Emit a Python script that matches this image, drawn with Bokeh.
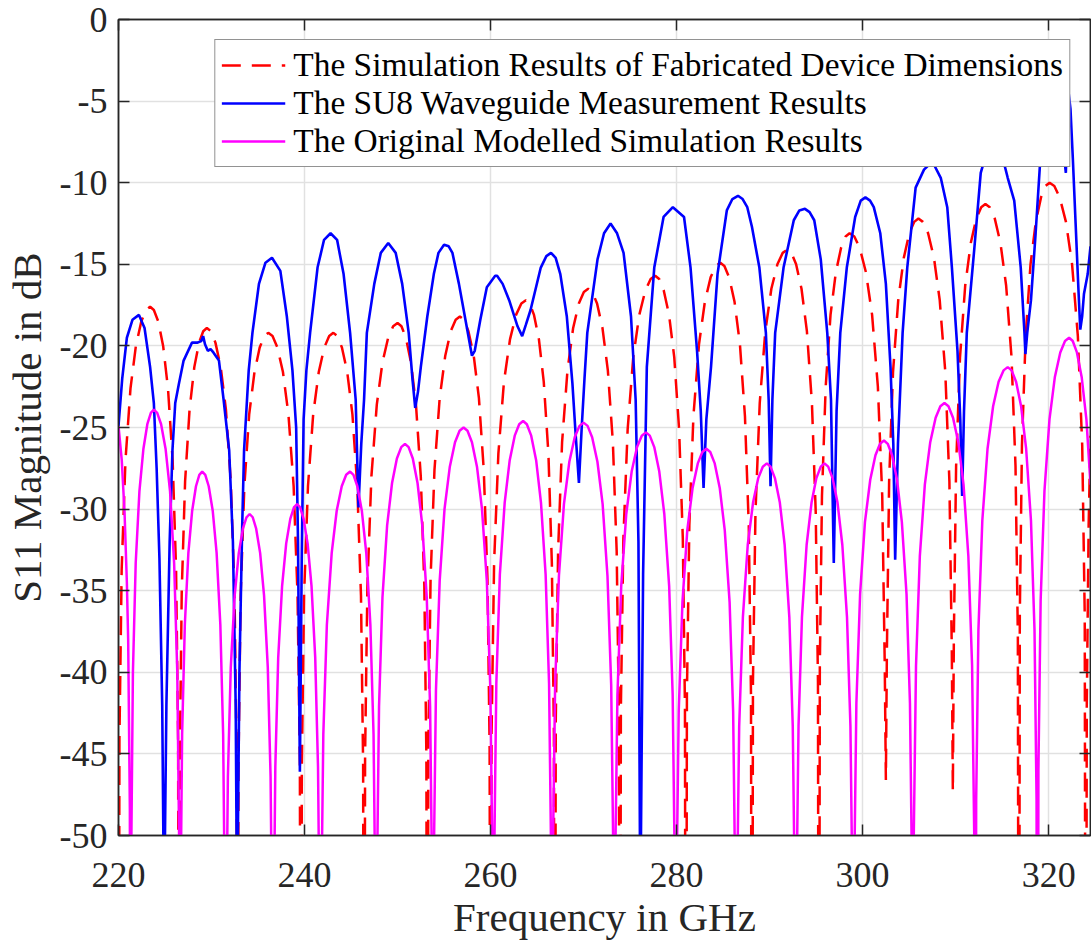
from bokeh.plotting import figure
from bokeh.models import Range1d, LinearAxis, FixedTicker, Legend, LegendItem, PrintfTickFormatter
from bokeh.embed import file_html
from bokeh.resources import INLINE

# Axis ticks
x_ticks = [220, 240, 260, 280, 300, 320]
y_ticks = [-50, -45, -40, -35, -30, -25, -20, -15, -10, -5, 0]

# Simulation results of the fabricated device dimensions (GHz, dB)
fabricated_sim = [
    (220.0, -80),
    (220.10, -44.1), (220.34, -33.7), (220.75, -27.0), (221.29, -22.6), (221.87, -20.0), (222.45, -18.5), (222.96, -17.8),
    (223.4, -17.6),
    (223.80, -17.8), (224.27, -18.5), (224.80, -20.0), (225.32, -22.6), (225.82, -27.0), (226.19, -33.7), (226.41, -44.1),
    (226.5, -80),
    (226.59, -45.4), (226.80, -35.0), (227.16, -28.3), (227.64, -23.9), (228.15, -21.3), (228.66, -19.8), (229.11, -19.1),
    (229.5, -18.9),
    (229.93, -19.1), (230.42, -19.8), (230.99, -21.3), (231.55, -23.9), (232.07, -28.3), (232.47, -35.0), (232.70, -45.4),
    (232.8, -80),
    (232.90, -45.7), (233.13, -35.3), (233.53, -28.6), (234.05, -24.2), (234.62, -21.6), (235.18, -20.1), (235.67, -19.4),
    (236.1, -19.2),
    (236.56, -19.4), (237.08, -20.1), (237.68, -21.6), (238.27, -24.2), (238.83, -28.6), (239.25, -35.3), (239.50, -45.7),
    (239.6, -80),
    (239.71, -45.7), (239.95, -35.3), (240.37, -28.6), (240.93, -24.2), (241.53, -21.6), (242.12, -20.1), (242.65, -19.4),
    (243.1, -19.2),
    (243.53, -19.4), (244.02, -20.1), (244.59, -21.6), (245.15, -24.2), (245.67, -28.6), (246.07, -35.3), (246.30, -45.7),
    (246.4, -80),
    (246.51, -45.1), (246.76, -34.7), (247.19, -28.0), (247.77, -23.6), (248.38, -21.0), (248.99, -19.5), (249.53, -18.8),
    (250.0, -18.6),
    (250.42, -18.8), (250.90, -19.5), (251.44, -21.0), (251.98, -23.6), (252.50, -28.0), (252.88, -34.7), (253.10, -45.1),
    (253.2, -80),
    (253.31, -44.7), (253.55, -34.3), (253.97, -27.6), (254.53, -23.2), (255.13, -20.6), (255.72, -19.1), (256.25, -18.4),
    (256.7, -18.2),
    (257.13, -18.4), (257.62, -19.1), (258.19, -20.6), (258.75, -23.2), (259.27, -27.6), (259.67, -34.3), (259.90, -44.7),
    (260.0, -80),
    (260.11, -43.7), (260.38, -33.3), (260.84, -26.6), (261.44, -22.2), (262.09, -19.6), (262.74, -18.1), (263.31, -17.4),
    (263.8, -17.2),
    (264.20, -17.4), (264.67, -18.1), (265.20, -19.6), (265.72, -22.2), (266.22, -26.6), (266.59, -33.3), (266.81, -43.7),
    (266.9, -80),
    (267.01, -43.0), (267.26, -32.6), (267.69, -25.9), (268.27, -21.5), (268.88, -18.9), (269.49, -17.4), (270.03, -16.7),
    (270.5, -16.5),
    (270.94, -16.7), (271.45, -17.4), (272.03, -18.9), (272.61, -21.5), (273.15, -25.9), (273.56, -32.6), (273.80, -43.0),
    (273.9, -80),
    (274.01, -42.2), (274.28, -31.8), (274.74, -25.1), (275.34, -20.7), (275.99, -18.1), (276.64, -16.6), (277.21, -15.9),
    (277.7, -15.7),
    (278.13, -15.9), (278.62, -16.6), (279.19, -18.1), (279.75, -20.7), (280.27, -25.1), (280.67, -31.8), (280.90, -42.2),
    (281.0, -80),
    (281.11, -41.4), (281.37, -31.0), (281.81, -24.3), (282.41, -19.9), (283.04, -17.3), (283.66, -15.8), (284.22, -15.1),
    (284.7, -14.9),
    (285.14, -15.1), (285.65, -15.8), (286.23, -17.3), (286.81, -19.9), (287.35, -24.3), (287.76, -31.0), (288.00, -41.4),
    (288.1, -80),
    (288.21, -40.6), (288.48, -30.2), (288.94, -23.5), (289.54, -19.1), (290.19, -16.5), (290.84, -15.0), (291.41, -14.3),
    (291.9, -14.1),
    (292.34, -14.3), (292.85, -15.0), (293.43, -16.5), (294.01, -19.1), (294.55, -23.5), (294.96, -30.2), (295.20, -40.6),
    (295.3, -80),
    (295.40, -39.6), (295.63, -29.2), (296.03, -22.5), (296.55, -18.1), (297.12, -15.5), (297.68, -14.0), (298.17, -13.3),
    (298.6, -13.1),
    (299.11, -13.3), (299.69, -14.0), (300.36, -15.5), (301.02, -18.1), (301.64, -22.5), (302.11, -29.2), (302.38, -39.6),
    (302.5, -46.6),
    (302.61, -38.7), (302.85, -28.3), (303.27, -21.6), (303.83, -17.2), (304.43, -14.6), (305.02, -13.1), (305.55, -12.4),
    (306.0, -12.2),
    (306.48, -12.4), (307.04, -13.1), (307.67, -14.6), (308.29, -17.2), (308.89, -21.6), (309.33, -28.3), (309.59, -38.7),
    (309.7, -47.3),
    (309.81, -37.8), (310.05, -27.4), (310.47, -20.7), (311.03, -16.3), (311.63, -13.7), (312.22, -12.2), (312.75, -11.5),
    (313.2, -11.3),
    (313.67, -11.5), (314.21, -12.2), (314.82, -13.7), (315.43, -16.3), (316.01, -20.7), (316.44, -27.4), (316.69, -37.8),
    (316.8, -80),
    (316.90, -36.5), (317.13, -26.1), (317.53, -19.4), (318.05, -15.0), (318.62, -12.4), (319.18, -10.9), (319.67, -10.2),
    (320.1, -10.0),
    (320.61, -10.2), (321.19, -10.9), (321.86, -12.4), (322.52, -15.0), (323.14, -19.4), (323.61, -26.1), (323.88, -36.5),
    (324.0, -80),
    (324.1, -42.0), (324.3, -31.0), (324.5, -25.5),
]

# SU8 waveguide measurement (GHz, dB)
su8_measured = [
    (220.0, -24.9), (220.4, -22.0), (220.9, -19.5), (221.5, -18.4), (222.2, -18.1), (222.8, -18.9),
    (223.4, -21.3), (223.8, -23.5), (224.1, -27.5), (224.4, -33.0), (224.7, -42.0), (224.9, -55.0),
    (225.15, -42.0), (225.5, -32.0), (225.8, -26.4), (226.1, -23.5), (226.5, -22.3), (227.0, -20.9),
    (227.9, -19.8), (228.5, -19.8), (228.9, -19.7), (229.1, -19.4), (229.3, -19.9), (229.6, -20.3),
    (229.9, -20.2), (230.2, -20.4), (230.8, -20.9), (231.3, -23.3), (231.9, -26.4), (232.3, -32.0),
    (232.6, -42.0), (232.75, -55.0), (233.0, -40.0), (233.3, -31.0), (233.5, -26.4), (234.0, -21.5),
    (234.4, -19.2), (235.1, -16.2), (235.8, -14.9), (236.5, -14.6), (237.4, -15.4), (238.1, -18.2),
    (238.7, -21.5), (239.1, -25.0), (239.3, -32.0), (239.5, -46.1), (239.7, -33.0), (239.9, -24.5),
    (240.2, -21.5), (240.6, -19.2), (241.4, -15.2), (242.1, -13.5), (242.8, -13.1), (243.5, -13.5),
    (244.2, -15.6), (244.9, -19.2), (245.5, -23.3), (245.8, -29.9), (246.1, -26.0), (246.4, -23.3),
    (246.7, -19.2), (247.5, -16.2), (248.2, -14.3), (249.0, -13.7), (249.8, -14.3), (250.5, -16.2),
    (251.2, -19.2), (251.6, -22.0), (251.9, -23.8), (252.2, -22.8), (252.5, -21.3), (253.2, -18.2),
    (253.9, -15.6), (254.4, -14.3), (255.0, -13.8), (255.5, -13.9), (255.9, -14.3), (256.6, -16.2),
    (257.3, -18.4), (258.0, -20.6), (258.3, -20.3), (258.9, -18.4), (259.6, -16.4), (260.5, -15.7),
    (260.7, -15.7), (261.3, -16.2), (262.0, -17.2), (262.9, -18.8), (263.4, -19.4), (263.8, -18.7),
    (264.3, -17.8), (265.4, -15.2), (266.0, -14.5), (266.5, -14.3), (267.0, -14.6), (267.5, -15.6),
    (268.2, -18.2), (268.8, -22.3), (269.1, -25.0), (269.5, -28.4), (269.8, -25.0), (270.1, -22.0),
    (270.4, -19.2), (271.5, -14.7), (272.2, -13.1), (272.9, -12.5), (273.6, -13.1), (274.3, -14.3),
    (275.1, -18.2), (275.6, -23.3), (275.9, -32.0), (276.1, -55.0), (276.4, -34.0), (276.8, -21.3),
    (277.6, -15.2), (278.6, -12.1), (279.6, -11.5), (280.8, -12.1), (281.5, -15.2), (282.2, -20.3),
    (282.6, -24.0), (282.9, -28.7), (283.2, -24.5), (283.7, -21.3), (284.4, -15.6), (285.4, -11.7),
    (286.0, -11.0), (286.6, -10.8), (287.1, -11.0), (287.6, -11.5), (288.1, -12.7), (288.9, -15.2),
    (289.6, -19.2), (289.9, -23.3), (290.1, -28.6), (290.3, -23.3), (290.6, -19.2), (291.5, -15.2),
    (292.6, -12.3), (293.2, -11.7), (293.8, -11.6), (294.3, -11.8), (294.8, -12.3), (295.5, -14.7),
    (296.2, -19.2), (296.6, -23.3), (296.9, -33.3), (297.2, -24.0), (297.6, -19.2), (298.3, -15.2),
    (299.2, -12.1), (299.8, -11.1), (300.3, -10.9), (300.8, -11.1), (301.2, -11.5), (301.9, -13.1),
    (302.5, -16.2), (303.0, -21.3), (303.3, -26.0), (303.5, -33.1), (303.8, -26.0), (304.3, -19.2),
    (304.8, -15.2), (305.7, -10.3), (306.6, -9.2), (307.5, -8.7), (308.4, -9.7), (309.1, -11.5),
    (309.6, -15.2), (310.2, -20.3), (310.5, -24.5), (310.7, -29.2), (310.9, -24.0), (311.2, -19.2),
    (312.0, -14.1), (312.7, -9.4), (313.4, -8.0), (314.1, -7.3), (314.8, -7.9), (315.6, -9.7),
    (316.3, -11.1), (317.0, -15.2), (317.4, -19.2), (317.5, -20.5), (317.7, -19.2), (318.1, -17.2),
    (318.6, -13.1), (319.1, -8.6), (319.6, -5.8), (320.3, -4.5), (321.0, -5.5), (321.6, -8.0),
    (321.85, -9.4), (322.0, -6.5), (322.15, -4.5), (322.35, -5.5), (322.6, -8.5), (322.9, -12.5),
    (323.2, -16.5), (323.4, -19.0), (323.6, -18.2), (323.8, -16.8), (324.2, -15.6), (324.5, -13.9),
]

# Original modelled simulation (GHz, dB)
original_sim = [
    (220.0, -24.9), (220.35, -27.0), (220.65, -30.2), (220.9, -34.5), (221.04, -38.0), (221.22, -48.4),
    (221.3, -80),
    (221.38, -50.4), (221.55, -40.0), (221.85, -33.3), (222.25, -28.9), (222.68, -26.3), (223.10, -24.8), (223.48, -24.1),
    (223.8, -23.9),
    (224.16, -24.1), (224.58, -24.8), (225.06, -26.3), (225.54, -28.9), (225.98, -33.3), (226.32, -40.0), (226.52, -50.4),
    (226.6, -80),
    (226.67, -54.2), (226.84, -43.8), (227.13, -37.1), (227.51, -32.7), (227.92, -30.1), (228.33, -28.6), (228.69, -27.9),
    (229.0, -27.7),
    (229.33, -27.9), (229.70, -28.6), (230.13, -30.1), (230.55, -32.7), (230.95, -37.1), (231.25, -43.8), (231.43, -54.2),
    (231.5, -80),
    (231.58, -56.8), (231.76, -46.4), (232.07, -39.7), (232.49, -35.3), (232.93, -32.7), (233.37, -31.2), (233.76, -30.5),
    (234.1, -30.3),
    (234.43, -30.5), (234.80, -31.2), (235.23, -32.7), (235.65, -35.3), (236.05, -39.7), (236.35, -46.4), (236.53, -56.8),
    (236.6, -80),
    (236.68, -56.2), (236.86, -45.8), (237.17, -39.1), (237.59, -34.7), (238.03, -32.1), (238.47, -30.6), (238.86, -29.9),
    (239.2, -29.7),
    (239.53, -29.9), (239.90, -30.6), (240.33, -32.1), (240.75, -34.7), (241.15, -39.1), (241.45, -45.8), (241.63, -56.2),
    (241.7, -80),
    (241.80, -54.2), (242.02, -43.8), (242.40, -37.1), (242.92, -32.7), (243.46, -30.1), (244.00, -28.6), (244.48, -27.9),
    (244.9, -27.7),
    (245.26, -27.9), (245.68, -28.6), (246.16, -30.1), (246.64, -32.7), (247.08, -37.1), (247.42, -43.8), (247.62, -54.2),
    (247.7, -80),
    (247.79, -52.5), (248.01, -42.1), (248.38, -35.4), (248.88, -31.0), (249.41, -28.4), (249.93, -26.9), (250.40, -26.2),
    (250.8, -26.0),
    (251.19, -26.2), (251.64, -26.9), (252.15, -28.4), (252.66, -31.0), (253.14, -35.4), (253.50, -42.1), (253.71, -52.5),
    (253.8, -80),
    (253.90, -51.5), (254.13, -41.1), (254.53, -34.4), (255.05, -30.0), (255.62, -27.4), (256.18, -25.9), (256.67, -25.2),
    (257.1, -25.0),
    (257.52, -25.2), (258.00, -25.9), (258.54, -27.4), (259.08, -30.0), (259.60, -34.4), (259.98, -41.1), (260.20, -51.5),
    (260.3, -80),
    (260.40, -51.1), (260.62, -40.7), (261.00, -34.0), (261.52, -29.6), (262.06, -27.0), (262.60, -25.5), (263.08, -24.8),
    (263.5, -24.6),
    (263.90, -24.8), (264.37, -25.5), (264.90, -27.0), (265.42, -29.6), (265.92, -34.0), (266.29, -40.7), (266.51, -51.1),
    (266.6, -80),
    (266.70, -51.2), (266.94, -40.8), (267.35, -34.1), (267.89, -29.7), (268.47, -27.1), (269.05, -25.6), (269.56, -24.9),
    (270.0, -24.7),
    (270.43, -24.9), (270.92, -25.6), (271.49, -27.1), (272.05, -29.7), (272.57, -34.1), (272.97, -40.8), (273.20, -51.2),
    (273.3, -80),
    (273.40, -51.8), (273.64, -41.4), (274.05, -34.7), (274.59, -30.3), (275.17, -27.7), (275.75, -26.2), (276.26, -25.5),
    (276.7, -25.3),
    (277.12, -25.5), (277.60, -26.2), (278.14, -27.7), (278.68, -30.3), (279.20, -34.7), (279.58, -41.4), (279.80, -51.8),
    (279.9, -80),
    (280.00, -52.8), (280.23, -42.4), (280.63, -35.7), (281.15, -31.3), (281.72, -28.7), (282.28, -27.2), (282.77, -26.5),
    (283.2, -26.3),
    (283.62, -26.5), (284.10, -27.2), (284.64, -28.7), (285.18, -31.3), (285.70, -35.7), (286.08, -42.4), (286.30, -52.8),
    (286.4, -80),
    (286.50, -53.7), (286.73, -43.3), (287.13, -36.6), (287.65, -32.2), (288.22, -29.6), (288.78, -28.1), (289.27, -27.4),
    (289.7, -27.2),
    (290.10, -27.4), (290.57, -28.1), (291.10, -29.6), (291.62, -32.2), (292.12, -36.6), (292.49, -43.3), (292.71, -53.7),
    (292.8, -80),
    (292.89, -53.7), (293.11, -43.3), (293.48, -36.6), (293.98, -32.2), (294.51, -29.6), (295.03, -28.1), (295.50, -27.4),
    (295.9, -27.2),
    (296.30, -27.4), (296.77, -28.1), (297.30, -29.6), (297.82, -32.2), (298.32, -36.6), (298.69, -43.3), (298.91, -53.7),
    (299.0, -80),
    (299.10, -52.3), (299.33, -41.9), (299.73, -35.2), (300.25, -30.8), (300.82, -28.2), (301.38, -26.7), (301.87, -26.0),
    (302.3, -25.8),
    (302.70, -26.0), (303.17, -26.7), (303.70, -28.2), (304.22, -30.8), (304.72, -35.2), (305.09, -41.9), (305.31, -52.3),
    (305.4, -80),
    (305.50, -50.0), (305.74, -39.6), (306.15, -32.9), (306.69, -28.5), (307.27, -25.9), (307.85, -24.4), (308.36, -23.7),
    (308.8, -23.5),
    (309.23, -23.7), (309.72, -24.4), (310.29, -25.9), (310.85, -28.5), (311.37, -32.9), (311.77, -39.6), (312.00, -50.0),
    (312.1, -80),
    (312.21, -47.8), (312.45, -37.4), (312.87, -30.7), (313.43, -26.3), (314.03, -23.7), (314.62, -22.2), (315.15, -21.5),
    (315.6, -21.3),
    (316.02, -21.5), (316.50, -22.2), (317.04, -23.7), (317.58, -26.3), (318.10, -30.7), (318.48, -37.4), (318.70, -47.8),
    (318.8, -80),
    (318.90, -46.0), (319.14, -35.6), (319.55, -28.9), (320.09, -24.5), (320.67, -21.9), (321.25, -20.4), (321.76, -19.7),
    (322.2, -19.5),
    (322.59, -19.7), (323.04, -20.4), (323.55, -21.9), (324.06, -24.5), (324.5, -28.5),
]

series_labels = [
    "The Simulation Results of Fabricated Device Dimensions",
    "The SU8 Waveguide Measurement Results",
    "The Original Modelled Simulation Results",
]

AX = "#262626"
FONT = "Liberation Serif"

p = figure(width=1091, height=942, output_backend="svg", toolbar_location=None,
           x_range=Range1d(220, 324.5), y_range=Range1d(-50, 0),
           min_border_left=118, min_border_right=1, min_border_top=19, min_border_bottom=106,
           background_fill_color="white", border_fill_color="white")
p.outline_line_color = AX
p.outline_line_width = 1.5


def style_axis(ax, ticks, labelled):
    ax.ticker = FixedTicker(ticks=ticks)
    ax.major_tick_in = 11
    ax.major_tick_out = 0
    ax.minor_tick_line_color = None
    ax.major_tick_line_color = AX
    ax.major_tick_line_width = 1.5
    ax.axis_line_color = AX
    ax.axis_line_width = 1.5
    if labelled:
        ax.formatter = PrintfTickFormatter(format="%d")
        ax.major_label_text_font = FONT
        ax.major_label_text_font_size = "36px"
        ax.major_label_text_color = AX
        ax.axis_label_text_font = FONT
        ax.axis_label_text_font_size = "41px"
        ax.axis_label_text_font_style = "normal"
        ax.axis_label_text_color = AX
    else:
        ax.formatter = PrintfTickFormatter(format="")
        ax.major_label_text_font_size = "1px"
        ax.major_label_standoff = 0


style_axis(p.xaxis[0], x_ticks, True)
style_axis(p.yaxis[0], y_ticks, True)
p.xaxis.axis_label = "Frequency in GHz"
p.yaxis.axis_label = "S11 Magnitude in dB"
p.xaxis.major_label_standoff = 27
p.xaxis.axis_label_standoff = 4
p.yaxis.major_label_standoff = 11
p.yaxis.axis_label_standoff = 7

top_axis = LinearAxis()
style_axis(top_axis, x_ticks, False)
p.add_layout(top_axis, "above")
right_axis = LinearAxis()
style_axis(right_axis, y_ticks, False)
p.add_layout(right_axis, "right")

p.xgrid.ticker = FixedTicker(ticks=x_ticks)
p.ygrid.ticker = FixedTicker(ticks=y_ticks)
p.xgrid.grid_line_color = "#e1e1e1"
p.ygrid.grid_line_color = "#e1e1e1"
p.xgrid.grid_line_width = 1.5
p.ygrid.grid_line_width = 1.5

fx, fy = zip(*fabricated_sim)
mx, my = zip(*su8_measured)
ox, oy = zip(*original_sim)

r_fab = p.line(fx, fy, line_color="#ff0000", line_width=2.5, line_dash="19 11")
r_meas = p.line(mx, my, line_color="#0000ff", line_width=2.6)
r_orig = p.line(ox, oy, line_color="#ff00ff", line_width=2.5)

legend = Legend(items=[
    LegendItem(label=series_labels[0], renderers=[r_fab]),
    LegendItem(label=series_labels[1], renderers=[r_meas]),
    LegendItem(label=series_labels[2], renderers=[r_orig]),
], location="top_right")
legend.margin = 20
legend.padding = 6
legend.spacing = 0
legend.glyph_width = 64
legend.glyph_height = 34
legend.label_height = 34
legend.label_standoff = 8
legend.label_text_font = FONT
legend.label_text_font_size = "33.4px"
legend.label_text_color = "#000000"
legend.border_line_color = AX
legend.border_line_width = 1.5
legend.background_fill_color = "white"
legend.background_fill_alpha = 1.0
p.add_layout(legend)

open("out.html", "w").write(file_html(p, INLINE))
